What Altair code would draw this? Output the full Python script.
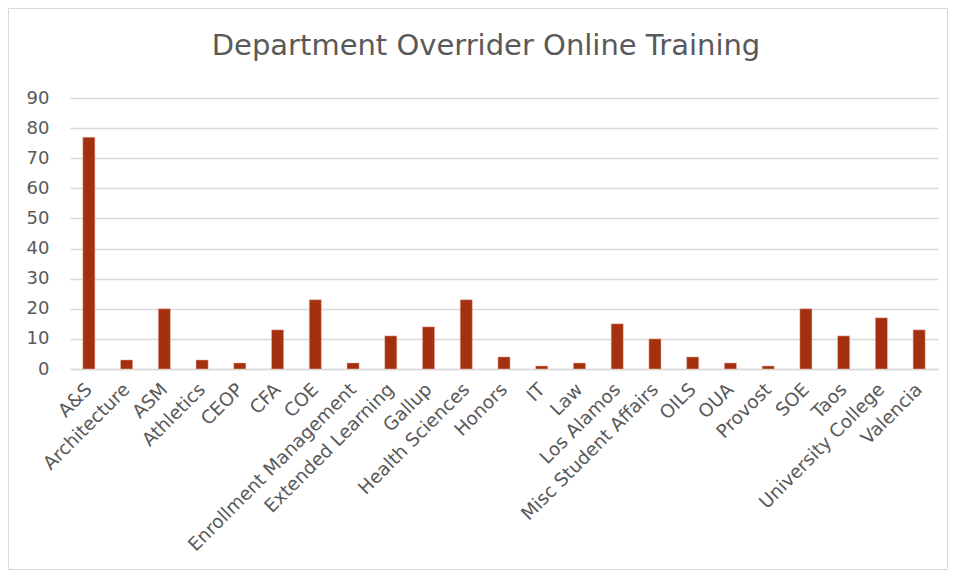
import altair as alt
import pandas as pd

departments = ["A&S", "Architecture", "ASM", "Athletics", "CEOP", "CFA", "COE",
               "Enrollment Management", "Extended Learning", "Gallup", "Health Sciences",
               "Honors", "IT", "Law", "Los Alamos", "Misc Student Affairs", "OILS", "OUA",
               "Provost", "SOE", "Taos", "University College", "Valencia"]
counts = [77, 3, 20, 3, 2, 13, 23, 2, 11, 14, 23, 4, 1, 2, 15, 10, 4, 2, 1, 20, 11, 17, 13]
y_ticks = [0, 10, 20, 30, 40, 50, 60, 70, 80, 90]
title_text = "Department Overrider Online Training"

df = pd.DataFrame({"Department": departments, "Count": counts})

FONT = "DejaVu Sans"
GREY = "#595959"

bars = alt.Chart(df).mark_bar(color="#A5300F", stroke="#E8B8A8", strokeWidth=0.5).encode(
    x=alt.X("Department:N", sort=departments,
            scale=alt.Scale(paddingInner=0.68, paddingOuter=0.34),
            axis=alt.Axis(title=None, labelAngle=-45, labelAlign="right", labelBaseline="middle",
                          labelFontSize=18.5, labelColor=GREY, labelFont=FONT, labelPadding=17,
                          labelLimit=0, ticks=False, domainColor="#D9D9D9", domainWidth=1.5,
                          grid=False)),
    y=alt.Y("Count:Q", scale=alt.Scale(domain=[0, 90], nice=False),
            axis=alt.Axis(title=None, values=y_ticks, labelFontSize=18, labelColor=GREY,
                          labelFont=FONT, labelPadding=21, ticks=False, domain=False,
                          gridColor="#D9D9D9", gridWidth=1.5)),
)

border = alt.Chart(pd.DataFrame({"b": [0]})).mark_rect(
    fill=None, stroke="#D9D9D9", strokeWidth=1
).encode(x=alt.value(-61.5), x2=alt.value(877.5), y=alt.value(-89.5), y2=alt.value(471.5))

title = alt.Chart(pd.DataFrame({"t": [title_text]})).mark_text(
    font=FONT, fontSize=29, fontWeight="normal", color=GREY, align="center", baseline="alphabetic"
).encode(text="t:N", x=alt.value(416), y=alt.value(-43))

chart = alt.layer(border, bars, title).properties(
    width=868, height=271,
    autosize=alt.AutoSizeParams(type="none"),
    padding={"left": 62, "top": 90, "right": 10, "bottom": 210},
).configure_view(stroke=None)

chart.save("out.html", embed_options={"renderer": "svg", "actions": False})
